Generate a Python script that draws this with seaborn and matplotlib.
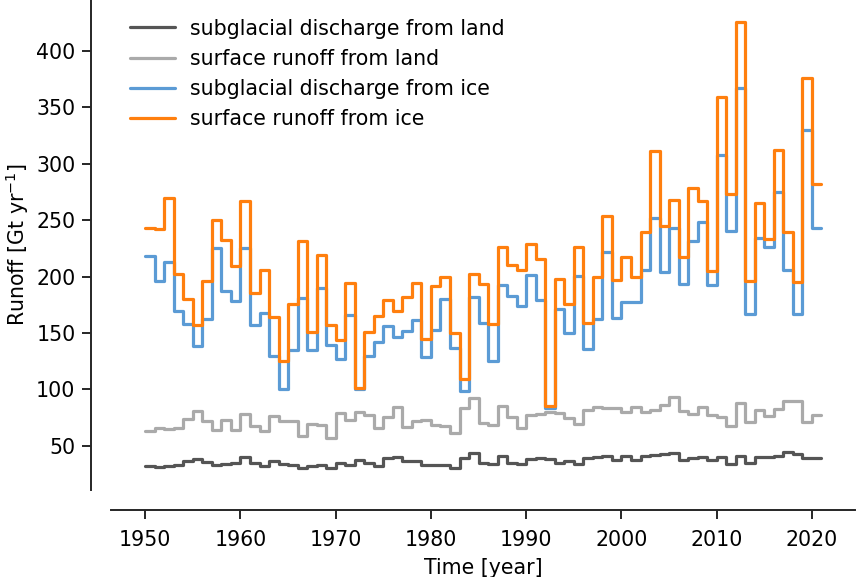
import matplotlib
matplotlib.use("Agg")
import matplotlib.pyplot as plt
import numpy as np
import pandas as pd
import seaborn as sns

# yearly runoff values, 1950-2020 (Gt/yr)
years = list(range(1950, 2021))

sgd_land = [32.2, 31.6, 32.2, 33.4, 36.7, 38.7, 35.8, 32.8, 33.7, 34.6,
            40.2, 34.6, 32.2, 36.4, 34.0, 33.4, 30.7, 32.2, 32.8, 30.7,
            35.2, 33.1, 37.6, 35.2, 32.2, 39.6, 40.2, 36.7, 36.7, 32.8,
            32.8, 32.8, 30.7, 39.6, 43.2, 34.6, 33.7, 41.1, 35.2, 33.7,
            38.7, 39.6, 38.7, 35.2, 36.7, 33.7, 39.6, 40.2, 41.1, 37.6,
            41.1, 37.6, 41.1, 42.0, 42.6, 43.5, 37.6, 39.6, 40.5, 37.6,
            40.5, 33.7, 41.1, 35.2, 40.2, 40.5, 41.1, 44.1, 42.6, 39.6,
            39.0]

surf_land = [63.4, 65.7, 64.5, 65.4, 73.7, 80.6, 72.3, 64.2, 72.8, 64.2,
             78.2, 67.8, 63.1, 76.7, 72.3, 72.3, 59.0, 69.0, 68.1, 56.8,
             78.8, 72.8, 79.7, 77.3, 66.0, 75.2, 84.1, 66.3, 71.7, 73.1,
             68.4, 67.2, 61.3, 83.5, 92.1, 70.2, 68.4, 85.0, 75.2, 65.4,
             77.3, 78.2, 79.7, 79.1, 74.6, 69.3, 82.0, 84.1, 83.2, 83.2,
             80.3, 84.7, 80.3, 82.0, 86.2, 93.0, 81.2, 78.2, 84.1, 77.3,
             75.2, 67.8, 88.0, 71.4, 82.0, 76.1, 82.6, 89.5, 89.5, 71.4,
             77.6]

sgd_ice = [218.5, 196, 212.6, 169.3, 157.7, 138.4, 162.8, 225, 187, 178.2,
           225, 157, 168.1, 129.2, 100, 135.2, 181.1, 135, 190, 139,
           127.2, 165.7, 100, 130, 142, 156.2, 146.4, 151.5, 161.3, 128.6,
           152.4, 180, 136.6, 99, 182, 158.9, 124.8, 192.4, 182.6, 174,
           201.3, 179, 83.2, 171, 150, 200.4, 136.1, 162.8, 222, 163.7,
           177, 177, 205.7, 251.7, 203.7, 242.8, 193, 231.6, 248.2, 192.4,
           308.1, 240.5, 367.4, 167.2, 234.5, 225.9, 274.9, 205.7, 167.2, 329.7,
           242.8]

surf_ice = [243, 242, 270, 202, 180, 157, 196, 250, 232.4, 209.3,
            267.1, 185, 205.7, 164.2, 124.8, 176.1, 231.6, 150.8, 218.8, 157,
            144.1, 194.5, 101, 150.8, 165.1, 179, 169.5, 182, 193.9, 145,
            191.5, 199.2, 150.3, 108.8, 202, 193.3, 157.7, 226.5, 210.2, 205.7,
            228.6, 215.5, 85, 197.7, 175.5, 225.9, 159.2, 199.2, 253.2, 196.8,
            217, 199.8, 239.3, 311, 244.9, 268, 217, 278.4, 267.1, 204.9,
            359.1, 273.4, 425.3, 196, 265.6, 233, 311.9, 239.3, 194.8, 376.3,
            282]

labels = ["subglacial discharge from land", "surface runoff from land",
          "subglacial discharge from ice", "surface runoff from ice"]
colors = ["#555555", "#aaaaaa", "#5b9bd5", "#ff7f0e"]

# extend each series by one year so the last step is drawn
step_years = years + [years[-1] + 1]
frames = []
for name, vals in zip(labels, [sgd_land, surf_land, sgd_ice, surf_ice]):
    frames.append(pd.DataFrame({"year": step_years,
                                "runoff": list(vals) + [vals[-1]],
                                "component": name}))
df = pd.concat(frames, ignore_index=True)

sns.set_style("ticks")
plt.rcParams["font.family"] = ["DejaVu Sans"]
plt.rcParams["text.color"] = "black"
plt.rcParams["axes.labelcolor"] = "black"

fig = plt.figure(figsize=(8.57, 5.77), dpi=100)
ax = fig.add_axes([0.130, 0.151, 0.868, 0.849])

sns.lineplot(data=df, x="year", y="runoff", hue="component",
             hue_order=labels, palette=colors, drawstyle="steps-post",
             linewidth=2.3, ax=ax)

ax.set_xlabel("Time [year]", fontsize=14.8, labelpad=6)
ax.set_ylabel("Runoff [Gt yr$^{-1}$]", fontsize=14.8, labelpad=4)
ax.set_xticks(range(1950, 2021, 10))
ax.set_yticks(range(50, 401, 50))
ax.tick_params(labelsize=14.8, length=6.5, width=1.4, colors="#262626",
               labelcolor="black")
ax.tick_params(axis="x", pad=8)
ax.tick_params(axis="y", pad=5)
for s in ax.spines.values():
    s.set_linewidth(1.4)
    s.set_color("#262626")

ax.legend(loc="upper left", frameon=False, fontsize=14.8,
          bbox_to_anchor=(0.0, 1.0), handlelength=2.2, handletextpad=0.7)
sns.despine(ax=ax, offset=14.4)

fig.savefig("out.png", dpi=100)
